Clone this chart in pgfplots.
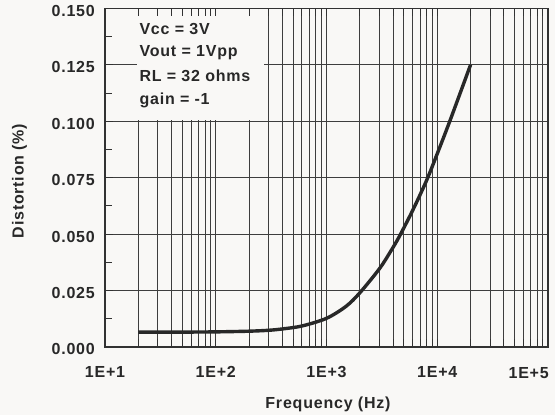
\documentclass[border=0pt]{standalone}
\usepackage{fontspec}
\setmainfont{Liberation Sans}[LetterSpace=5]
\usepackage{pgfplots}
\pgfplotsset{compat=1.18}
\definecolor{bgc}{RGB}{249,248,246}
\definecolor{gridc}{RGB}{62,62,62}
\definecolor{framec}{RGB}{50,50,50}
\definecolor{curvec}{RGB}{40,40,40}
\definecolor{textc}{RGB}{40,40,40}
\newcommand{\lbl}{\fontsize{16}{19}\selectfont\bfseries}
\begin{document}
\begin{tikzpicture}
\path[use as bounding box, fill=bgc] (0,0) rectangle (555pt,415pt);
% axis A: grid, curve and box
\begin{axis}[
  at={(105pt,68pt)}, anchor=south west, scale only axis,
  width=443pt, height=338.7pt,
  xmode=log, log basis x=10,
  xmin=10, xmax=100000, ymin=0, ymax=0.15,
  xtick={10,100,1000,10000,100000},
  minor xtick={20,30,40,50,60,70,80,90,200,300,400,500,600,700,800,900,2000,3000,4000,5000,6000,7000,8000,9000,20000,30000,40000,50000,60000,70000,80000,90000},
  ytick={0,0.025,0.05,0.075,0.1,0.125,0.15},
  xmajorgrids, xminorgrids, ymajorgrids,
  major grid style={gridc, line width=0.9pt},
  minor grid style={gridc, line width=0.9pt},
  major tick length=0pt, minor tick length=0pt,
  xticklabels={}, yticklabels={},
  axis line style={draw=none},
]
\addplot[curvec, line width=3.4pt, smooth] coordinates {
(20,0.0066) (50,0.0066) (100,0.0067) (200,0.0070) (300,0.0074) (400,0.0080)
(600,0.0093) (1000,0.0127) (1500,0.0180) (2000,0.0240) (3000,0.0346)
(3800,0.0424) (4540,0.0489) (6000,0.0605) (8000,0.0737) (10000,0.0856)
(13000,0.1001) (20000,0.1250)
};
\fill[bgc] ([xshift=-1.2pt,yshift=1pt]axis cs:20,0.1) rectangle (axis cs:275,0.15);
\end{axis}
% text box
\node[anchor=base west, text=textc, inner sep=0pt] at (139.3pt,380.7pt) {\lbl Vcc = 3V};
\node[anchor=base west, text=textc, inner sep=0pt] at (139.3pt,358pt) {\lbl Vout = 1Vpp};
\node[anchor=base west, text=textc, inner sep=0pt] at (139.3pt,333.5pt) {\lbl RL = 32 ohms};
\node[anchor=base west, text=textc, inner sep=0pt] at (139.3pt,310pt) {\lbl gain = -1};
% axis B: frame, ticks, labels
\begin{axis}[
  at={(105pt,68pt)}, anchor=south west, scale only axis,
  width=443pt, height=338.7pt,
  xmode=log, log basis x=10,
  xmin=10, xmax=100000, ymin=0, ymax=0.15,
  xtick={10,100,1000,10000,100000},
  xticklabels={1E+1,1E+2,1E+3,1E+4,{}},
  minor xtick={20,30,40,50,60,70,80,90,200,300,400,500,600,700,800,900,2000,3000,4000,5000,6000,7000,8000,9000,20000,30000,40000,50000,60000,70000,80000,90000},
  ytick={0,0.025,0.05,0.075,0.1,0.125,0.15},
  yticklabels={0.000,0.025,0.050,0.075,0.100,0.125,0.150},
  minor ytick={0.0125,0.0375,0.0625,0.0875,0.1125,0.1375},
  ytick pos=left,
  tick align=inside,
  major tick length=8pt, minor tick length=7.5pt,
  axis line style={framec, line width=1.4pt},
  tick style={framec, line width=0.9pt},
  xticklabel style={font=\lbl, text=textc, anchor=base, inner sep=0pt, yshift=-31pt},
  yticklabel style={font=\lbl, text=textc, anchor=base east, inner sep=0pt, xshift=-10pt, yshift=-8pt},
]
\end{axis}
\node[font=\lbl, text=textc, anchor=base east, inner sep=0pt] at (549pt,36.7pt) {1E+5};
\node[font=\lbl, text=textc, anchor=base, inner sep=0pt] at (328pt,6pt) {Frequency (Hz)};
\node[font=\lbl, text=textc, anchor=base, rotate=90, inner sep=0pt] at (23.5pt,234pt) {Distortion (\%)};
\end{tikzpicture}
\end{document}
